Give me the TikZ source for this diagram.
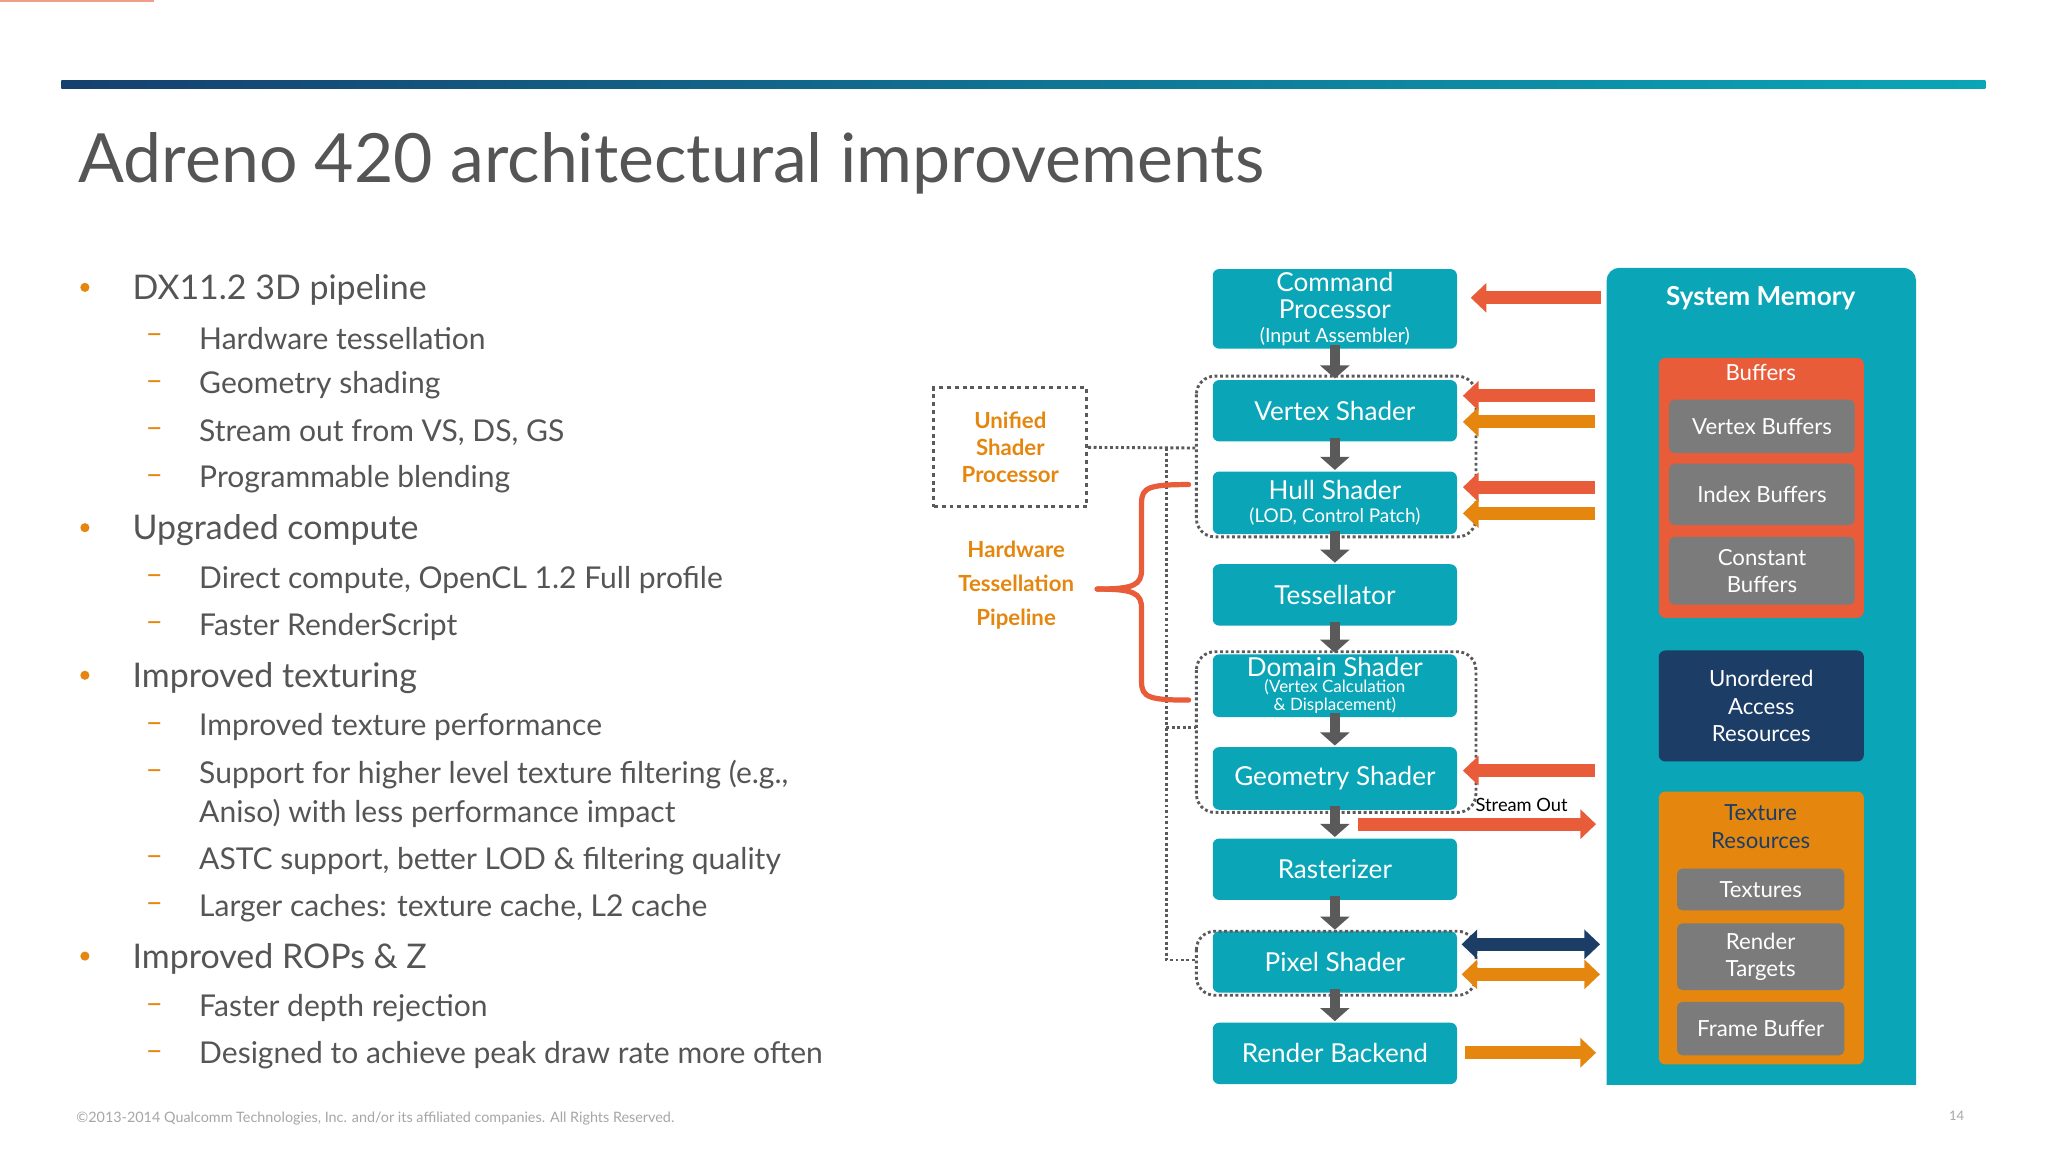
\documentclass[tikz,border=0pt]{standalone}
\usepackage{fontspec}
\setmainfont{Lato}
\usetikzlibrary{arrows.meta,shadings}
\definecolor{teal}{HTML}{0AA5B6}
\definecolor{redo}{HTML}{E95C3A}
\definecolor{orng}{HTML}{E5870F}
\definecolor{navy}{HTML}{1B3D66}
\definecolor{gbox}{HTML}{7B7B7B}
\definecolor{agray}{HTML}{5A5A5A}
\definecolor{txt}{HTML}{555555}
\definecolor{dnavy}{HTML}{16406E}
\newcommand{\fsz}[2]{\fontsize{#1}{#2}\selectfont}
\tikzset{
  pbox/.style={fill=teal,rounded corners=5pt,text=white,align=center,inner sep=0pt},
  gb/.style={fill=gbox,rounded corners=4pt,text=white,align=center,inner sep=0pt},
  dgrp/.style={draw=agray,line width=2.2pt,dotted,rounded corners=14pt},
  dlink/.style={draw=agray,line width=2.2pt,dotted},
  down/.style={agray,line width=8pt,-{Triangle[width=22pt,length=10pt]}},
  fat/.style={line width=10pt,-{Triangle[width=22pt,length=12pt]}},
  fatb/.style={line width=10pt,{Triangle[width=22pt,length=12pt]}-{Triangle[width=22pt,length=12pt]}},
  l1/.style={anchor=west,text=txt,font=\fsz{26}{31}},
  l2/.style={anchor=west,text=txt,font=\fsz{23}{28}},
  bul/.style={circle,fill=orng,inner sep=0pt,minimum size=7pt},
  dsh/.style={anchor=west,text=orng,font=\fsz{23}{28}},
}
\begin{document}
\begin{tikzpicture}[x=1pt,y=-1pt]
\useasboundingbox[fill=white] (0,0) rectangle (1568,882);
\fill[redo!60] (0,0) rectangle (118,1.5);
\shade[left color=dnavy,right color=teal] (47,62) rectangle (1520,68);
\node[anchor=base west,text=txt,font=\fsz{52}{60},inner sep=0pt] (title) at (60,140) {Adreno 420 architectural improvements};
\foreach \y/\t in {222/DX11.2 3D pipeline,406/Upgraded compute,519/Improved texturing,734/Improved ROPs \& Z}{
  \node[bul] at (65,\y-2) {};
  \node[l1] at (98,\y) {\t};}
\foreach \y/\t in {259/Hardware tessellation,295/Geometry shading,331/{Stream out from VS, DS, GS},367/Programmable blending,444/{Direct compute, OpenCL 1.2 Full profile},480/Faster RenderScript,557/Improved texture performance,593/{Support for higher level texture filtering (e.g.,},659/{ASTC support, better LOD \& filtering quality},695/{Larger caches: texture cache, L2 cache},772/Faster depth rejection,808/Designed to achieve peak draw rate more often}{
  \node[dsh] at (108,\y) {–};
  \node[l2] at (149,\y) {\t};}
\node[l2] at (149,623) {Aniso) with less performance impact};
\node[anchor=west,text=gray!70,font=\fsz{11}{13}] (foot) at (55,856) {©2013-2014 Qualcomm Technologies, Inc. and/or its affiliated companies. All Rights Reserved.};
\node[text=gray!70,font=\fsz{10}{12}] (pg) at (1498,854) {14};
\node[pbox,minimum width=187,minimum height=61,font=\fsz{20}{21}] (cp) at (1022,236.5) {Command\\Processor\\[-3pt]{\fsz{15}{16}(Input Assembler)}};
\node[pbox,minimum width=187,minimum height=47,font=\fsz{20}{22}] (vs) at (1022,314.5) {Vertex Shader};
\node[pbox,minimum width=187,minimum height=48,font=\fsz{20}{21}] (hs) at (1022,385) {Hull Shader\\[-4pt]{\fsz{14.5}{16}(LOD, Control Patch)}};
\node[pbox,minimum width=187,minimum height=47,font=\fsz{20}{22}] (ts) at (1022,455.5) {Tessellator};
\node[pbox,minimum width=187,minimum height=48,font=\fsz{13}{14}] (ds) at (1022,525) {{\fsz{20}{20}Domain Shader}\\[-2pt](Vertex Calculation\\\& Displacement)};
\node[pbox,minimum width=187,minimum height=48,font=\fsz{20}{22}] (gs) at (1022,596) {Geometry Shader};
\node[pbox,minimum width=187,minimum height=47,font=\fsz{20}{22}] (ra) at (1022,665.5) {Rasterizer};
\node[pbox,minimum width=187,minimum height=47,font=\fsz{20}{22}] (ps) at (1022,736.5) {Pixel Shader};
\node[pbox,minimum width=187,minimum height=47,font=\fsz{20}{22}] (rb) at (1022,806.5) {Render Backend};
\foreach \a/\b in {cp/vs,vs/hs,hs/ts,ts/ds,ds/gs,gs/ra,ra/ps,ps/rb}{
  \draw[down] ([yshift=3pt]\a.south) -- ([yshift=1pt]\b.north);}
\draw[dgrp] (916,288) rectangle (1130,411);
\draw[dgrp] (916,499) rectangle (1130,622);
\draw[dgrp] (916,713) rectangle (1130,762);
\node[draw=agray,dashed,line width=2.2pt,minimum width=117,minimum height=91,text=orng,font=\bfseries\fsz{17}{21},align=center] (usp) at (773.5,342.5) {Unified\\Shader\\Processor};
\coordinate (j1) at (893,343);
\coordinate (j2) at (893,735);
\coordinate (j3) at (893,557);
\draw[dlink] (usp.east) -- (916,343);
\draw[dlink] (j1) -- (j2) -- (916,735);
\draw[dlink] (j3) -- (916,557);
\node[text=orng,font=\bfseries\fsz{17}{26},align=center] (htp) at (778,448) {Hardware\\Tessellation\\Pipeline};
\draw[redo,line width=4pt,line cap=round] (910,371) .. controls (880,371) and (874,373) .. (874,385) -- (874,436) .. controls (874,448) and (868,451) .. (840,451);
\draw[redo,line width=4pt,line cap=round] (910,536) .. controls (880,536) and (874,534) .. (874,522) -- (874,466) .. controls (874,454) and (868,451) .. (840,451);
\fill[teal,rounded corners=10pt] (1230,205) rectangle (1467,850);
\fill[white] (1225,831) rectangle (1475,855);
\node[text=white,font=\bfseries\fsz{20}{24}] (sm) at (1348,228) {System Memory};
\fill[redo,rounded corners=5pt] (1270,274) rectangle (1427,473);
\node[text=white,font=\fsz{17}{20}] (buf) at (1348,285) {Buffers};
\node[gb,minimum width=142,minimum height=41,font=\fsz{17}{21}] (vb) at (1349,326.5) {Vertex Buffers};
\node[gb,minimum width=142,minimum height=47,font=\fsz{17}{21}] (ib) at (1349,378.5) {Index Buffers};
\node[gb,minimum width=142,minimum height=52,font=\fsz{17}{21}] (cb) at (1349,437) {Constant\\Buffers};
\node[fill=navy,rounded corners=5pt,minimum width=157,minimum height=85,text=white,font=\fsz{17}{21},align=center,inner sep=0pt] (uav) at (1348.5,540.5) {Unordered\\Access\\Resources};
\fill[orng,rounded corners=5pt] (1270,606) rectangle (1427,815);
\node[text=navy,font=\fsz{17}{21},align=center] (tr) at (1348,633) {Texture\\Resources};
\node[gb,minimum width=128,minimum height=32,font=\fsz{17}{21}] (tx) at (1348,681) {Textures};
\node[gb,minimum width=128,minimum height=51,font=\fsz{17}{21}] (rt) at (1348,732.5) {Render\\Targets};
\node[gb,minimum width=128,minimum height=41,font=\fsz{17}{21}] (fb) at (1348,787.5) {Frame Buffer};
\draw[fat,redo] (1226,228) -- (1126,228);
\draw[fat,redo] (1221,303) -- (1120,303);
\draw[fat,orng] (1221,323) -- (1120,323);
\draw[fat,redo] (1221,373) -- (1120,373);
\draw[fat,orng] (1221,393) -- (1120,393);
\draw[fat,redo] (1221,590) -- (1120,590);
\draw[fat,redo] (1040,631) -- (1222,631);
\node[font=\fsz{14}{16},text=black] (so) at (1165,616) {Stream Out};
\draw[fatb,navy] (1119,723) -- (1225,723);
\draw[fatb,orng] (1119,746) -- (1225,746);
\draw[fat,orng] (1122,806) -- (1222,806);
\end{tikzpicture}
\end{document}
